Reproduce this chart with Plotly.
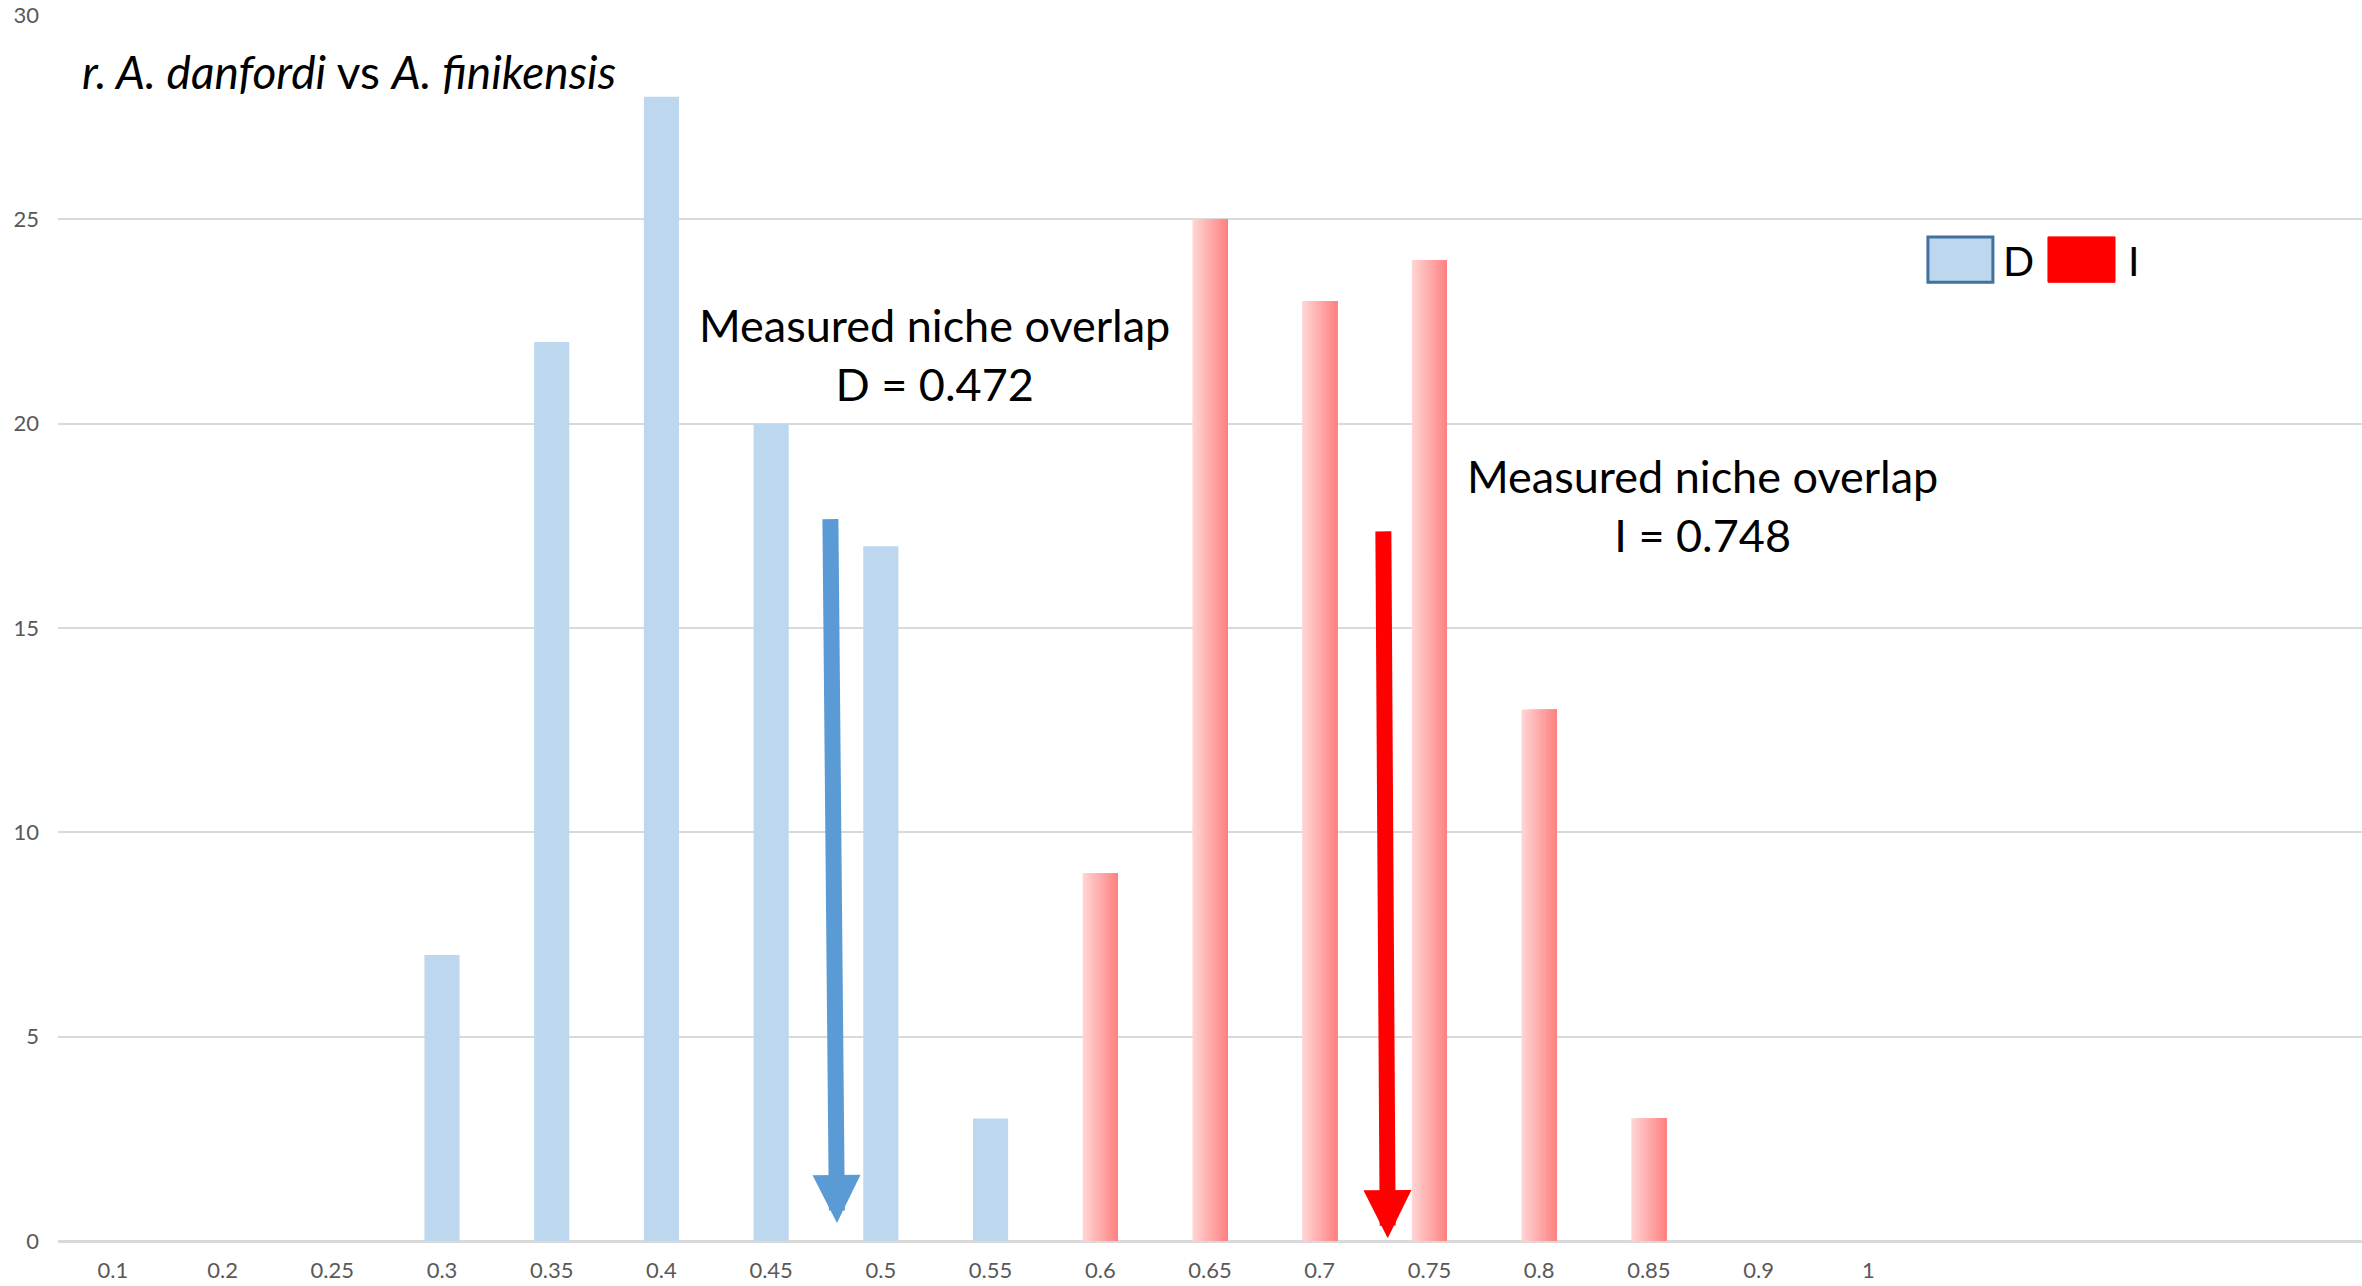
import plotly.graph_objects as go

# ---- data ----
categories = ["0.1", "0.2", "0.25", "0.3", "0.35", "0.4", "0.45", "0.5", "0.55",
              "0.6", "0.65", "0.7", "0.75", "0.8", "0.85", "0.9", "1", "", "", "", ""]
d_values = [0, 0, 0, 7, 22, 28, 20, 17, 3, 0, 0, 0, 0, 0, 0, 0, 0, 0, 0, 0, 0]
i_values = [0, 0, 0, 0, 0, 0, 0, 0, 0, 9, 25, 23, 24, 13, 3, 0, 0, 0, 0, 0, 0]

measured_D = 0.472
measured_I = 0.748
# arrow positions (category-index units, counts)
arrow_D = dict(x_tail=6.54, y_tail=17.7, x_tip=6.60, y_tip=0.44)
arrow_I = dict(x_tail=11.58, y_tail=17.4, x_tip=11.62, y_tip=0.07)

FONT = "Lato"
BAR_W = 0.32
xpos = list(range(len(categories)))

fig = go.Figure()

# D bars (flat light blue)
fig.add_trace(go.Bar(
    x=xpos, y=[v if v else None for v in d_values], width=BAR_W, offset=-BAR_W / 2,
    marker=dict(color="#BDD7EE", line=dict(width=0)), name="D", showlegend=False))

# I bars with horizontal gradient (layered slices)
N = 24
c0 = (255, 212, 212)
c1 = (255, 130, 130)
for k in range(N):
    t = k / (N - 1)
    col = "rgb(%d,%d,%d)" % tuple(round(a + (b - a) * t) for a, b in zip(c0, c1))
    fig.add_trace(go.Bar(
        x=xpos, y=[v if v else None for v in i_values],
        width=BAR_W * (N - k) / N, offset=-BAR_W / 2 + BAR_W * k / N,
        marker=dict(color=col, line=dict(width=0)), name="I", showlegend=False,
        hoverinfo="skip" if k else None))

annotations = [
    dict(x=arrow_D["x_tip"], y=arrow_D["y_tip"], ax=arrow_D["x_tail"], ay=arrow_D["y_tail"],
         xref="x", yref="y", axref="x", ayref="y", text="", showarrow=True,
         arrowhead=2, arrowsize=0.6, arrowwidth=16, arrowcolor="#5B9BD5", standoff=0),
    dict(x=arrow_I["x_tip"], y=arrow_I["y_tip"], ax=arrow_I["x_tail"], ay=arrow_I["y_tail"],
         xref="x", yref="y", axref="x", ayref="y", text="", showarrow=True,
         arrowhead=2, arrowsize=0.6, arrowwidth=16, arrowcolor="#FF0000", standoff=0),
    dict(x=7.49, y=21.7, xref="x", yref="y", showarrow=False,
         text="Measured niche overlap<br>D = %.3f" % measured_D,
         font=dict(family=FONT, size=45, color="#000000"), align="center"),
    dict(x=14.49, y=18.0, xref="x", yref="y", showarrow=False,
         text="Measured niche overlap<br>I = %.3f" % measured_I,
         font=dict(family=FONT, size=45, color="#000000"), align="center"),
    dict(x=0.0095, y=0.954, xref="paper", yref="paper", xanchor="left", yanchor="middle",
         showarrow=False, text="<i>r. A. danfordi</i> vs <i>A. finikensis</i>",
         font=dict(family=FONT, size=46, color="#000000")),
    # legend labels
    dict(x=0.8435, y=0.800, xref="paper", yref="paper", xanchor="left", yanchor="middle",
         showarrow=False, text="D", font=dict(family=FONT, size=41, color="#000000")),
    dict(x=0.8975, y=0.800, xref="paper", yref="paper", xanchor="left", yanchor="middle",
         showarrow=False, text="I", font=dict(family=FONT, size=41, color="#000000")),
]

shapes = [
    dict(type="rect", xref="paper", yref="paper", x0=0.8116, x1=0.8398, y0=0.782, y1=0.819,
         fillcolor="#BDD7EE", line=dict(color="#41719C", width=3)),
    dict(type="rect", xref="paper", yref="paper", x0=0.8637, x1=0.8928, y0=0.782, y1=0.819,
         fillcolor="#FF0000", line=dict(color="#FF0000", width=1)),
]

fig.update_layout(
    width=2362, height=1286,
    margin=dict(l=58, r=0, t=15, b=45),
    paper_bgcolor="white", plot_bgcolor="white",
    barmode="overlay", showlegend=False,
    annotations=annotations, shapes=shapes,
    font=dict(family=FONT),
)
fig.update_xaxes(
    range=[-0.5, len(categories) - 0.5],
    tickmode="array", tickvals=xpos, ticktext=categories,
    showgrid=False, zeroline=False, showline=False,
    ticks="", ticklabelstandoff=14,
    tickfont=dict(family=FONT, size=22, color="#595959"),
)
fig.update_yaxes(
    range=[0, 30], dtick=5, tick0=0,
    showgrid=True, gridcolor="#D9D9D9", gridwidth=2,
    zeroline=True, zerolinecolor="#D9D9D9", zerolinewidth=3,
    showline=False, ticks="", ticklabelstandoff=18,
    tickfont=dict(family=FONT, size=22, color="#595959"),
)

fig.write_html("out.html", config={"displayModeBar": False},
               post_script="document.body.style.margin='0';")
